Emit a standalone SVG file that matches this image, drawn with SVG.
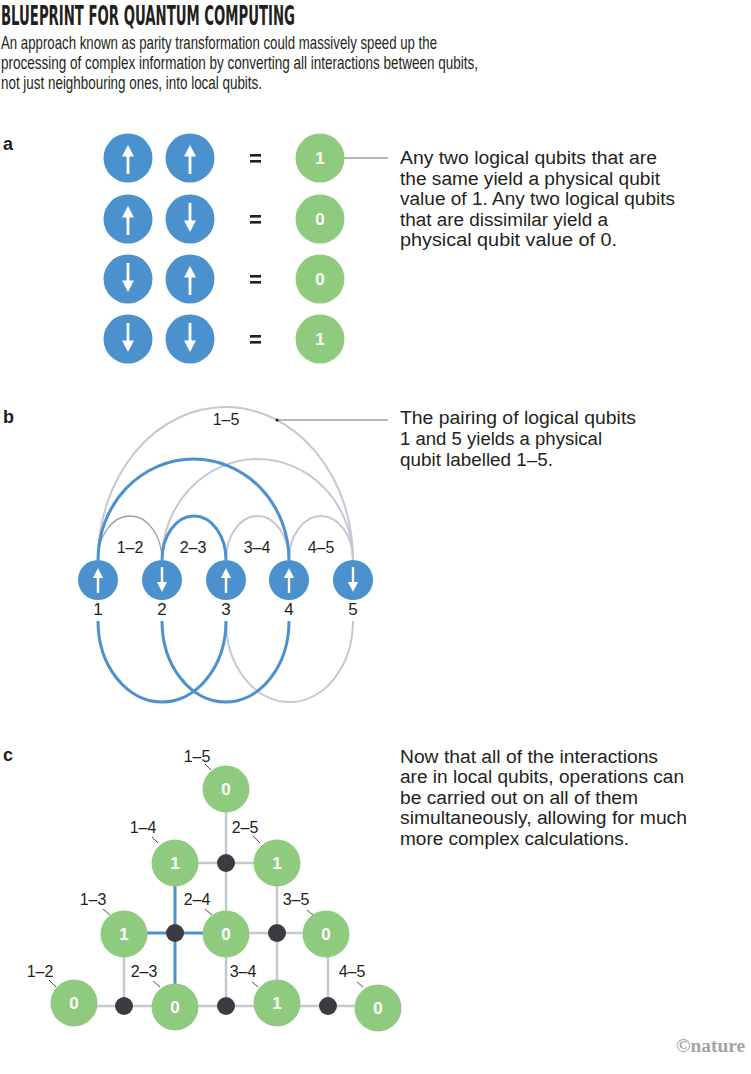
<svg xmlns="http://www.w3.org/2000/svg" xmlns:xlink="http://www.w3.org/1999/xlink" width="751" height="1074" viewBox="0 0 751 1074">
<style>
.title{font-family:"Liberation Sans Narrow","DejaVu Sans Condensed","Liberation Sans",sans-serif;font-weight:bold;font-size:27px;fill:#231f20}
.sub{font-family:"Liberation Sans Narrow","Liberation Sans",sans-serif;font-size:18.5px;fill:#231f20}
.body{font-family:"Liberation Sans",Arial,sans-serif;font-size:18px;fill:#231f20}
.panel{font-family:"Liberation Sans",Arial,sans-serif;font-weight:bold;font-size:18px;fill:#231f20}
.lbl{font-family:"Liberation Sans",Arial,sans-serif;font-size:16px;fill:#231f20;text-anchor:middle}
.num{font-family:"Liberation Sans",Arial,sans-serif;font-size:17px;fill:#231f20;text-anchor:middle}
.val{font-family:"Liberation Sans",Arial,sans-serif;font-weight:bold;font-size:17px;fill:#fff;text-anchor:middle}
.blue{fill:#4b91cd}
.green{fill:#8fcb7e}
.dot{fill:#3b3c41}
.eq{fill:#231f20}
.garc{fill:none;stroke:#c5c8d3;stroke-width:2}
.garcd{fill:none;stroke:#9a9eab;stroke-width:1.3}
.barc{fill:none;stroke:#4b91cd;stroke-width:3}
.gl{stroke:#c5c8d3;stroke-width:2.5;fill:none}
.bl{stroke:#4b91cd;stroke-width:3;fill:none}
.tick{stroke:#231f20;stroke-width:0.8}
.lead{stroke:#6d6e71;stroke-width:1}
</style>
<defs>
<g id="up"><line x1="0" y1="14" x2="0" y2="-6" stroke="#fff" stroke-width="2.8"/><path d="M-6,-3.5 L0,-15 L6,-3.5 Z" fill="#fff"/></g>
<g id="down"><use href="#up" transform="rotate(180)"/></g>
</defs>
<rect width="751" height="1074" fill="#fff"/>

<g id="header">
<text class="title" x="1" y="25" textLength="294" lengthAdjust="spacingAndGlyphs">BLUEPRINT FOR QUANTUM COMPUTING</text>
<text class="sub" x="1" y="49" textLength="436" lengthAdjust="spacingAndGlyphs">An approach known as parity transformation could massively speed up the</text>
<text class="sub" x="1" y="69" textLength="477" lengthAdjust="spacingAndGlyphs">processing of complex information by converting all interactions between qubits,</text>
<text class="sub" x="1" y="89" textLength="261" lengthAdjust="spacingAndGlyphs">not just neighbouring ones, into local qubits.</text>
</g>

<!-- Panel a -->
<g id="panel-a-label"><text class="panel" x="3" y="150">a</text></g>
<g id="connectors-a">
<line class="lead" x1="337" y1="158" x2="388" y2="158"/>
<circle cx="337" cy="158" r="1.5" fill="#231f20"/>
</g>
<g id="a-row1">
<circle class="blue" cx="128" cy="158" r="24.5"/><use href="#up" x="128" y="160"/>
<circle class="blue" cx="190" cy="158" r="24.5"/><use href="#up" x="190" y="160"/>
<rect class="eq" x="250" y="154" width="11" height="2.6"/><rect class="eq" x="250" y="160" width="11" height="2.6"/>
<circle class="green" cx="320" cy="158" r="24.5"/><text class="val" x="320" y="164">1</text>
</g>
<g id="a-row2">
<circle class="blue" cx="128" cy="219" r="24.5"/><use href="#up" x="128" y="221"/>
<circle class="blue" cx="190" cy="219" r="24.5"/><use href="#down" x="190" y="217"/>
<rect class="eq" x="250" y="215" width="11" height="2.6"/><rect class="eq" x="250" y="221" width="11" height="2.6"/>
<circle class="green" cx="320" cy="219" r="24.5"/><text class="val" x="320" y="225">0</text>
</g>
<g id="a-row3">
<circle class="blue" cx="128" cy="279" r="24.5"/><use href="#down" x="128" y="277"/>
<circle class="blue" cx="190" cy="279" r="24.5"/><use href="#up" x="190" y="281"/>
<rect class="eq" x="250" y="275" width="11" height="2.6"/><rect class="eq" x="250" y="281" width="11" height="2.6"/>
<circle class="green" cx="320" cy="279" r="24.5"/><text class="val" x="320" y="285">0</text>
</g>
<g id="a-row4">
<circle class="blue" cx="128" cy="339" r="24.5"/><use href="#down" x="128" y="337"/>
<circle class="blue" cx="190" cy="339" r="24.5"/><use href="#down" x="190" y="337"/>
<rect class="eq" x="250" y="335" width="11" height="2.6"/><rect class="eq" x="250" y="341" width="11" height="2.6"/>
<circle class="green" cx="320" cy="339" r="24.5"/><text class="val" x="320" y="345">1</text>
</g>
<g id="a-note">
<text class="body" x="400" y="164" textLength="257" lengthAdjust="spacingAndGlyphs">Any two logical qubits that are</text>
<text class="body" x="400" y="185" textLength="260" lengthAdjust="spacingAndGlyphs">the same yield a physical qubit</text>
<text class="body" x="400" y="205" textLength="275" lengthAdjust="spacingAndGlyphs">value of 1. Any two logical qubits</text>
<text class="body" x="400" y="226" textLength="208" lengthAdjust="spacingAndGlyphs">that are dissimilar yield a</text>
<text class="body" x="400" y="246" textLength="217" lengthAdjust="spacingAndGlyphs">physical qubit value of 0.</text>
</g>

<!-- Panel b -->
<g id="panel-b-label"><text class="panel" x="3" y="423">b</text></g>
<g id="connectors-b">
<path class="garc" d="M98,560 A127.5,153 0 0 1 353,560"/>
<path class="garc" d="M162,560 A95.5,101 0 0 1 353,560"/>
<path class="garcd" d="M98,560 A32,44 0 0 1 162,560"/>
<path class="garc" d="M226,560 A31.5,44 0 0 1 289,560"/>
<path class="garc" d="M289,560 A32,44 0 0 1 353,560"/>
<path class="barc" d="M98,560 A95.5,101 0 0 1 289,560"/>
<path class="barc" d="M162,560 A32,44 0 0 1 226,560"/>
<path class="garc" d="M226,621 A63.5,81 0 0 0 353,621"/>
<path class="barc" d="M98,621 A64,81 0 0 0 226,621"/>
<path class="barc" d="M162,621 A63.5,81 0 0 0 289,621"/>
<line class="lead" x1="277" y1="420" x2="388" y2="420"/>
<circle cx="277" cy="420" r="1.5" fill="#231f20"/>
</g>
<g id="b-arc-labels">
<text class="lbl" x="226" y="425">1–5</text>
<text class="lbl" x="130" y="553">1–2</text>
<text class="lbl" x="193" y="553">2–3</text>
<text class="lbl" x="257" y="553">3–4</text>
<text class="lbl" x="321" y="553">4–5</text>
</g>
<g id="b-q1"><circle class="blue" cx="98" cy="580" r="20"/><use href="#up" transform="translate(98,581) scale(0.85)"/><text class="num" x="98" y="615">1</text></g>
<g id="b-q2"><circle class="blue" cx="162" cy="580" r="20"/><use href="#down" transform="translate(162,579) scale(0.85)"/><text class="num" x="162" y="615">2</text></g>
<g id="b-q3"><circle class="blue" cx="226" cy="580" r="20"/><use href="#up" transform="translate(226,581) scale(0.85)"/><text class="num" x="226" y="615">3</text></g>
<g id="b-q4"><circle class="blue" cx="289" cy="580" r="20"/><use href="#up" transform="translate(289,581) scale(0.85)"/><text class="num" x="289" y="615">4</text></g>
<g id="b-q5"><circle class="blue" cx="353" cy="580" r="20"/><use href="#down" transform="translate(353,579) scale(0.85)"/><text class="num" x="353" y="615">5</text></g>
<g id="b-note">
<text class="body" x="400" y="424" textLength="236" lengthAdjust="spacingAndGlyphs">The pairing of logical qubits</text>
<text class="body" x="400" y="445" textLength="202" lengthAdjust="spacingAndGlyphs">1 and 5 yields a physical</text>
<text class="body" x="400" y="466" textLength="153" lengthAdjust="spacingAndGlyphs">qubit labelled 1–5.</text>
</g>

<!-- Panel c -->
<g id="panel-c-label"><text class="panel" x="3" y="761">c</text></g>
<g id="connectors-c">
<line class="gl" x1="226" y1="789" x2="226" y2="1006"/>
<line class="gl" x1="175" y1="863" x2="277" y2="863"/>
<line class="gl" x1="277" y1="863" x2="277" y2="1004"/>
<line class="gl" x1="226" y1="933" x2="326" y2="933"/>
<line class="gl" x1="124" y1="934" x2="124" y2="1006"/>
<line class="gl" x1="328" y1="934" x2="328" y2="1006"/>
<line class="gl" x1="74" y1="1006" x2="378" y2="1006"/>
<line class="bl" x1="175" y1="863" x2="175" y2="1007"/>
<line class="bl" x1="124" y1="933" x2="226" y2="933"/>
</g>
<g id="c-dots">
<circle class="dot" cx="226" cy="863" r="9"/>
<circle class="dot" cx="175" cy="933" r="9"/>
<circle class="dot" cx="277" cy="933" r="9"/>
<circle class="dot" cx="124" cy="1006" r="9"/>
<circle class="dot" cx="226" cy="1006" r="9"/>
<circle class="dot" cx="328" cy="1006" r="9"/>
</g>
<g id="c-15"><circle class="green" cx="226" cy="789" r="23.5"/><text class="val" x="226" y="795">0</text><text class="lbl" x="197" y="762">1–5</text><line class="tick" x1="205" y1="764" x2="211" y2="770"/></g>
<g id="c-14"><circle class="green" cx="175" cy="863" r="23.5"/><text class="val" x="175" y="869">1</text><text class="lbl" x="143" y="833">1–4</text><line class="tick" x1="152" y1="837" x2="158" y2="843"/></g>
<g id="c-25"><circle class="green" cx="277" cy="863" r="23.5"/><text class="val" x="277" y="869">1</text><text class="lbl" x="245" y="833">2–5</text><line class="tick" x1="253" y1="836" x2="260" y2="843"/></g>
<g id="c-13"><circle class="green" cx="124" cy="934" r="23.5"/><text class="val" x="124" y="940">1</text><text class="lbl" x="93" y="905">1–3</text><line class="tick" x1="103" y1="909" x2="110" y2="915"/></g>
<g id="c-24"><circle class="green" cx="226" cy="934" r="23.5"/><text class="val" x="226" y="940">0</text><text class="lbl" x="197" y="905">2–4</text><line class="tick" x1="205" y1="909" x2="212" y2="915"/></g>
<g id="c-35"><circle class="green" cx="326" cy="934" r="23.5"/><text class="val" x="326" y="940">0</text><text class="lbl" x="296" y="905">3–5</text><line class="tick" x1="307" y1="910" x2="313" y2="915"/></g>
<g id="c-12"><circle class="green" cx="74" cy="1003" r="23.5"/><text class="val" x="74" y="1009">0</text><text class="lbl" x="40" y="977">1–2</text><line class="tick" x1="49" y1="980" x2="56" y2="987"/></g>
<g id="c-23"><circle class="green" cx="175" cy="1007" r="23.5"/><text class="val" x="175" y="1013">0</text><text class="lbl" x="144" y="977">2–3</text><line class="tick" x1="153" y1="981" x2="160" y2="987"/></g>
<g id="c-34"><circle class="green" cx="277" cy="1003" r="23.5"/><text class="val" x="277" y="1009">1</text><text class="lbl" x="243" y="977">3–4</text><line class="tick" x1="252" y1="982" x2="258" y2="987"/></g>
<g id="c-45"><circle class="green" cx="378" cy="1008" r="23.5"/><text class="val" x="378" y="1014">0</text><text class="lbl" x="352" y="977">4–5</text><line class="tick" x1="357" y1="982" x2="363" y2="987"/></g>
<g id="c-note">
<text class="body" x="400" y="763" textLength="258" lengthAdjust="spacingAndGlyphs">Now that all of the interactions</text>
<text class="body" x="400" y="783" textLength="284" lengthAdjust="spacingAndGlyphs">are in local qubits, operations can</text>
<text class="body" x="400" y="804" textLength="238" lengthAdjust="spacingAndGlyphs">be carried out on all of them</text>
<text class="body" x="400" y="824" textLength="287" lengthAdjust="spacingAndGlyphs">simultaneously, allowing for much</text>
<text class="body" x="400" y="845" textLength="229" lengthAdjust="spacingAndGlyphs">more complex calculations.</text>
</g>
<g id="credit"><text x="676" y="1052" textLength="69" lengthAdjust="spacingAndGlyphs" style="font-family:'Liberation Serif',serif;font-weight:bold;font-size:18px;fill:#a3a3a3">©nature</text></g>
</svg>
